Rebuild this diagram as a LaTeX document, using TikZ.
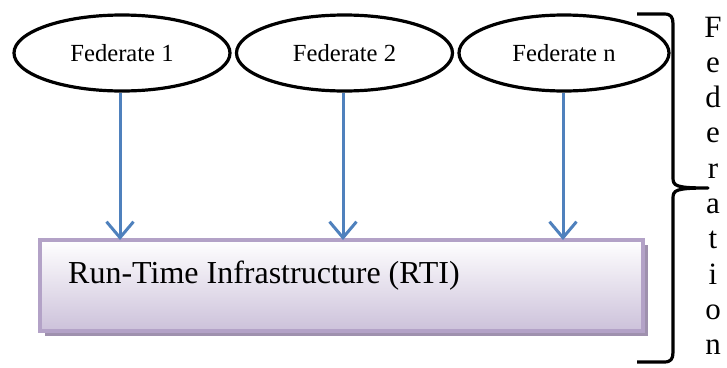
\documentclass[tikz,border=0pt]{standalone}
\usepackage{fontspec}
\setmainfont{Liberation Serif}
\usetikzlibrary{arrows.meta,shapes.geometric}
\definecolor{arrowblue}{HTML}{4F81BD}
\definecolor{boxborder}{HTML}{B3A2C7}
\definecolor{boxbottom}{HTML}{CCC1DA}
\definecolor{boxshadow}{HTML}{9F91AE}
\begin{document}
\begin{tikzpicture}[x=1pt,y=-1pt,
  fed/.style={ellipse,draw=black,line width=3.2pt,minimum width=216pt,minimum height=76pt,inner sep=0pt,font=\fontsize{24.6}{28}\selectfont},
  link/.style={draw=arrowblue,line width=3pt,-{Straight Barb[length=16pt,width=27pt,line width=3pt]}},
  letter/.style={anchor=base,inner sep=0pt,font=\fontsize{31}{34}\selectfont}]
\useasboundingbox (0,0) rectangle (727,367);
% ellipses
\node[fed] (f1) at (122,53) {Federate 1};
\node[fed] (f2) at (344.5,53) {Federate 2};
\node[fed,minimum width=210pt] (fn) at (564,53) {Federate n};
% RTI box
\fill[boxshadow] (45,245) rectangle (648,336);
\shade[top color=white,bottom color=boxbottom] (40,240) rectangle (643,331);
\draw[boxborder,line width=3.4pt] (40,240) rectangle (643,331);
\node[anchor=west,inner sep=0pt,font=\fontsize{32}{36}\selectfont] (rti) at (68,276) {Run-Time Infrastructure (RTI)};
\coordinate (b1) at (120,240);
\coordinate (b2) at (343,240);
\coordinate (bn) at (563,240);
% arrows
\draw[link] (f1.south -| b1) -- (b1);
\draw[link] (f2.south -| b2) -- (b2);
\draw[link] (fn.south -| bn) -- (bn);
% brace
\draw[black,line width=3.2pt,line join=round]
  (637,14) -- (664,14) .. controls (671,14) and (673,17) .. (673,24)
  -- (673,178) .. controls (673,186) and (676,188) .. (708,188)
  .. controls (676,188) and (673,190) .. (673,198)
  -- (673,352) .. controls (673,359) and (671,362) .. (664,362) -- (637,362);
% Federation letters
\foreach \ch [count=\i from 0] in {F,e,d,e,r,a,t,i,o,n}
  \node[letter] (L\i) at (713,37+35.3*\i) {\ch};
\end{tikzpicture}
\end{document}
